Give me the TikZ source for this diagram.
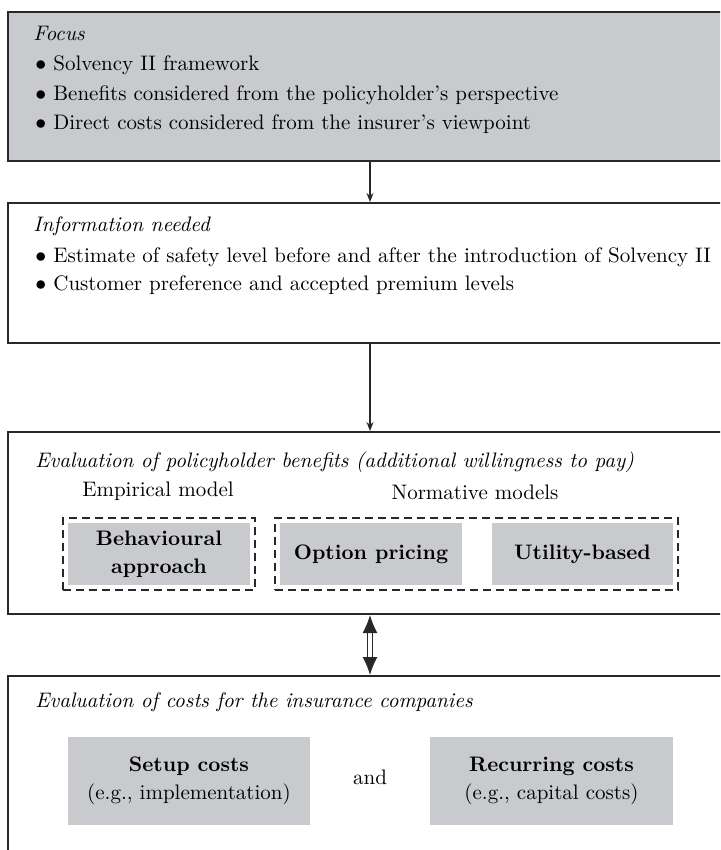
\documentclass[tikz,border=0pt]{standalone}
\usetikzlibrary{arrows.meta}
\definecolor{boxgray}{RGB}{200,202,206}
\definecolor{linecol}{RGB}{40,40,40}
\begin{document}
\begin{tikzpicture}[x=0.5pt,y=-0.5pt,
  font=\fontsize{10.5}{12.6}\selectfont,
  outer/.style={draw=linecol, line width=1pt, rectangle, inner sep=0pt},
  txt/.style={anchor=base west, inner sep=0pt},
  ctxt/.style={anchor=base, inner sep=0pt},
  dashbox/.style={draw=linecol, line width=1pt, dash pattern=on 4pt off 2.5pt, rectangle, inner sep=0pt, minimum height=36pt},
  graybox/.style={fill=boxgray, rectangle, inner sep=0pt, align=center, font=\fontsize{10.5}{14}\selectfont},
  arr/.style={draw=linecol, line width=0.6pt, -{Stealth[length=4.5pt,width=3.5pt]}},
  dbl/.style={draw=linecol, line width=0.6pt, double distance=1.6pt, {Latex[length=9pt,width=7.5pt]}-{Latex[length=9pt,width=7.5pt]}}]
\useasboundingbox (0,0) rectangle (720,850);
\clip (0,0) rectangle (720,850);

% box 1
\node[outer, fill=boxgray, minimum width=362pt, minimum height=74.5pt] (b1) at (370,86.5) {};
\node[txt] (f0) at (33,41) {\itshape Focus};
\node[txt] (f1) at (35,71) {$\bullet$ Solvency II framework};
\node[txt] (f2) at (35,100.5) {$\bullet$ Benefits considered from the policyholder's perspective};
\node[txt] (f3) at (35,130) {$\bullet$ Direct costs considered from the insurer's viewpoint};

% box 2
\node[outer, minimum width=362pt, minimum height=70pt] (b2) at (370,273) {};
\node[txt] (i0) at (33,232) {\itshape Information needed};
\node[txt] (i1) at (35,262) {$\bullet$ Estimate of safety level before and after the introduction of Solvency II};
\node[txt] (i2) at (35,290) {$\bullet$ Customer preference and accepted premium levels};

% box 3
\node[outer, minimum width=362pt, minimum height=91pt] (b3) at (370,523) {};
\node[txt] (e0) at (35,467.5) {\itshape Evaluation of policyholder benefits (additional willingness to pay)};
\node[ctxt] (e1) at (158,496) {Empirical model};
\node[ctxt] (e2) at (475,499) {Normative models};
\node[dashbox, minimum width=96pt] (d1) at (159,554) {};
\node[dashbox, minimum width=201.5pt] (d2) at (476.5,554) {};
\node[graybox, minimum width=91pt, minimum height=31pt] (g1) at (159,554) {\bfseries Behavioural\\\bfseries approach};
\node[graybox, minimum width=91pt, minimum height=31pt] (g2) at (371,554) {\bfseries Option pricing};
\node[graybox, minimum width=90.5pt, minimum height=31pt] (g3) at (582.5,554) {\bfseries Utility-based};

% box 4
\node[outer, minimum width=362pt, minimum height=102pt] (b4) at (370,778) {};
\node[txt] (c0) at (35,707) {\itshape Evaluation of costs for the insurance companies};
\node[graybox, minimum width=121pt, minimum height=44pt] (s1) at (189,781) {\bfseries Setup costs\\(e.g., implementation)};
\node[ctxt] (and) at (370,784) {and};
\node[graybox, minimum width=121.5pt, minimum height=44pt] (s2) at (551.5,781) {\bfseries Recurring costs\\(e.g., capital costs)};

% connectors
\draw[arr] (b1.south) -- (b2.north);
\draw[arr] (b2.south) -- (b3.north);
\draw[dbl] (b3.south) -- (b4.north);
\end{tikzpicture}
\end{document}
